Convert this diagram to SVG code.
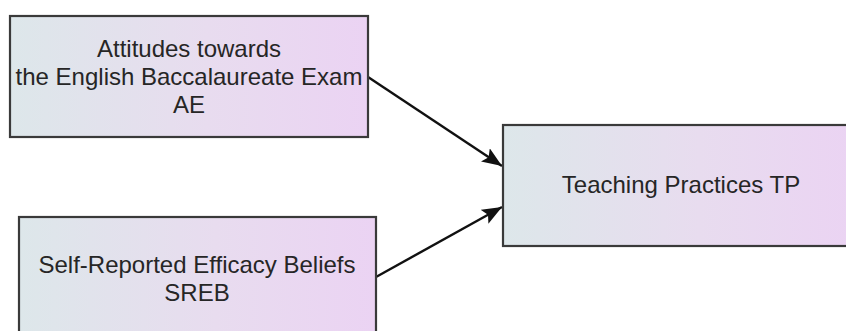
<svg xmlns="http://www.w3.org/2000/svg" width="846" height="331" viewBox="0 0 846 331">
  <defs>
    <linearGradient id="fill" x1="0" y1="0" x2="1" y2="0">
      <stop offset="0" stop-color="#dde7ea"/>
      <stop offset="0.55" stop-color="#e8dcef"/>
      <stop offset="1" stop-color="#ebd3f3"/>
    </linearGradient>
    <marker id="arrow" markerUnits="userSpaceOnUse" markerWidth="22" markerHeight="16" refX="20" refY="8" orient="auto">
      <path d="M0,0 L20,8 L0,16 L4,8 Z" fill="#111"/>
    </marker>
  </defs>
  <style>
    .box { fill: url(#fill); stroke: #3a3a3a; stroke-width: 2.2; }
    .label { font-family: "Liberation Sans", Arial, sans-serif; font-size: 24px; fill: #262626; text-anchor: middle; }
    .conn { stroke: #111; stroke-width: 2.4; fill: none; marker-end: url(#arrow); }
  </style>
  <rect width="846" height="331" fill="#ffffff"/>
  <g id="connectors">
    <line class="conn" x1="368" y1="77" x2="502" y2="166"/>
    <line class="conn" x1="376" y1="277" x2="502" y2="207"/>
  </g>
  <g id="node-AE">
    <rect class="box" x="10" y="16" width="358" height="121"/>
    <text class="label" x="189" y="57">Attitudes towards</text>
    <text class="label" x="189" y="85">the English Baccalaureate Exam</text>
    <text class="label" x="189" y="113">AE</text>
  </g>
  <g id="node-SREB">
    <rect class="box" x="19" y="217" width="357" height="121"/>
    <text class="label" x="197" y="273">Self-Reported Efficacy Beliefs</text>
    <text class="label" x="197" y="301">SREB</text>
  </g>
  <g id="node-TP">
    <rect class="box" x="503" y="125" width="357" height="121"/>
    <text class="label" x="681" y="193">Teaching Practices TP</text>
  </g>
</svg>
